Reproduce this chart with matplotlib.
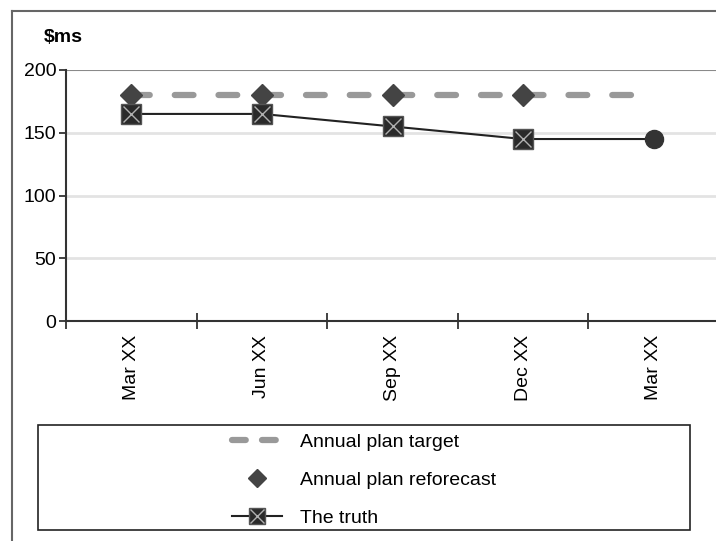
import matplotlib
matplotlib.use("Agg")
import matplotlib.pyplot as plt
from matplotlib.patches import Rectangle
from matplotlib.lines import Line2D
from matplotlib.legend_handler import HandlerTuple

plt.rcParams['font.family'] = ['Liberation Sans', 'DejaVu Sans']

# data
periods = ['Mar XX', 'Jun XX', 'Sep XX', 'Dec XX', 'Mar XX']
target = [180, 180, 180, 180, 180]
reforecast = [180, 180, 180, 180]
truth = [165, 165, 155, 145, 145]
y_ticks = [0, 50, 100, 150, 200]

fig = plt.figure(figsize=(7.16, 5.41), dpi=100)
ax = fig.add_axes([66 / 716, 1 - 321 / 541, 653 / 716, 251 / 541])

x = list(range(len(periods)))

# gridlines
for v in y_ticks[1:-1]:
    ax.axhline(v, color='#e3e3e3', lw=2, zorder=0)
ax.axhline(200, color='#8a8a8a', lw=1.5, zorder=0)

ax.plot(x, target, color='#999999', lw=4.5, dashes=(3.0, 4.0),
        dash_capstyle='round', zorder=2)
ax.plot(x[:len(reforecast)], reforecast, ls='none', marker='D', ms=11.5,
        color='#444444', zorder=3)
ax.plot(x, truth, color='#222222', lw=1.5, zorder=4)
ax.plot(x[:-1], truth[:-1], ls='none', marker='s', ms=14, mfc='#2a2a2a',
        mec='#555555', mew=1, zorder=5)
ax.plot(x[:-1], truth[:-1], ls='none', marker='x', ms=12, mec='#b0b0b0',
        mew=1, zorder=6)
ax.plot(x[-1:], truth[-1:], ls='none', marker='o', ms=13, color='#333333',
        zorder=5)

ax.set_xlim(-0.5, len(periods) - 0.5)
ax.set_ylim(0, 200)
ax.set_yticks(y_ticks)
ax.set_yticklabels([str(v) for v in y_ticks], fontsize=14)
ax.set_xticks([i - 0.5 for i in range(len(periods))])
ax.set_xticklabels([])
ax.set_xticks(x, minor=True)
ax.set_xticklabels(periods, minor=True, rotation=90, fontsize=14)
ax.tick_params(axis='x', which='minor', length=0, pad=10)
ax.tick_params(axis='x', which='major', direction='inout', length=12, width=1.3,
               color='#333333')
ax.tick_params(axis='y', direction='out', length=5, width=1.3, color='#333333',
               pad=2)

for s in ['top', 'right']:
    ax.spines[s].set_visible(False)
for s in ['left', 'bottom']:
    ax.spines[s].set_linewidth(1.5)
    ax.spines[s].set_color('#333333')

fig.text(44 / 716, 1 - 38 / 541, '\\$ms', fontsize=14, fontweight='bold',
         va='center', ha='left')

# outer frame
fig.add_artist(Line2D([12 / 716, 1.0], [1 - 11 / 541] * 2, color='#666666', lw=1.5))
fig.add_artist(Line2D([12 / 716] * 2, [0, 1 - 11 / 541], color='#666666', lw=1.5))

# legend box
fig.add_artist(Rectangle((38 / 716, 1 - 530 / 541), 652 / 716, 105 / 541,
                         transform=fig.transFigure, fill=False,
                         ec='#222222', lw=1.2))

h_target = Line2D([], [], color='#999999', lw=4.5, dashes=(2.2, 2.6),
                  dash_capstyle='round')
h_ref = Line2D([], [], ls='none', marker='D', ms=9, color='#444444')
h_truth = (Line2D([], [], color='#222222', lw=1.5, marker='s', ms=12,
                  mfc='#2a2a2a', mec='#555555'),
           Line2D([], [], ls='none', marker='x', ms=10, mec='#b0b0b0', mew=1))
fig.legend([h_target, h_ref, h_truth],
           ['Annual plan target', 'Annual plan reforecast', 'The truth'],
           handler_map={tuple: HandlerTuple(ndivide=1, pad=0)},
           loc='center', bbox_to_anchor=(364 / 716, 1 - 480 / 541),
           frameon=False, fontsize=14, labelspacing=1.05, handlelength=2.6,
           handletextpad=0.9)

fig.savefig('out.png', dpi=100)
